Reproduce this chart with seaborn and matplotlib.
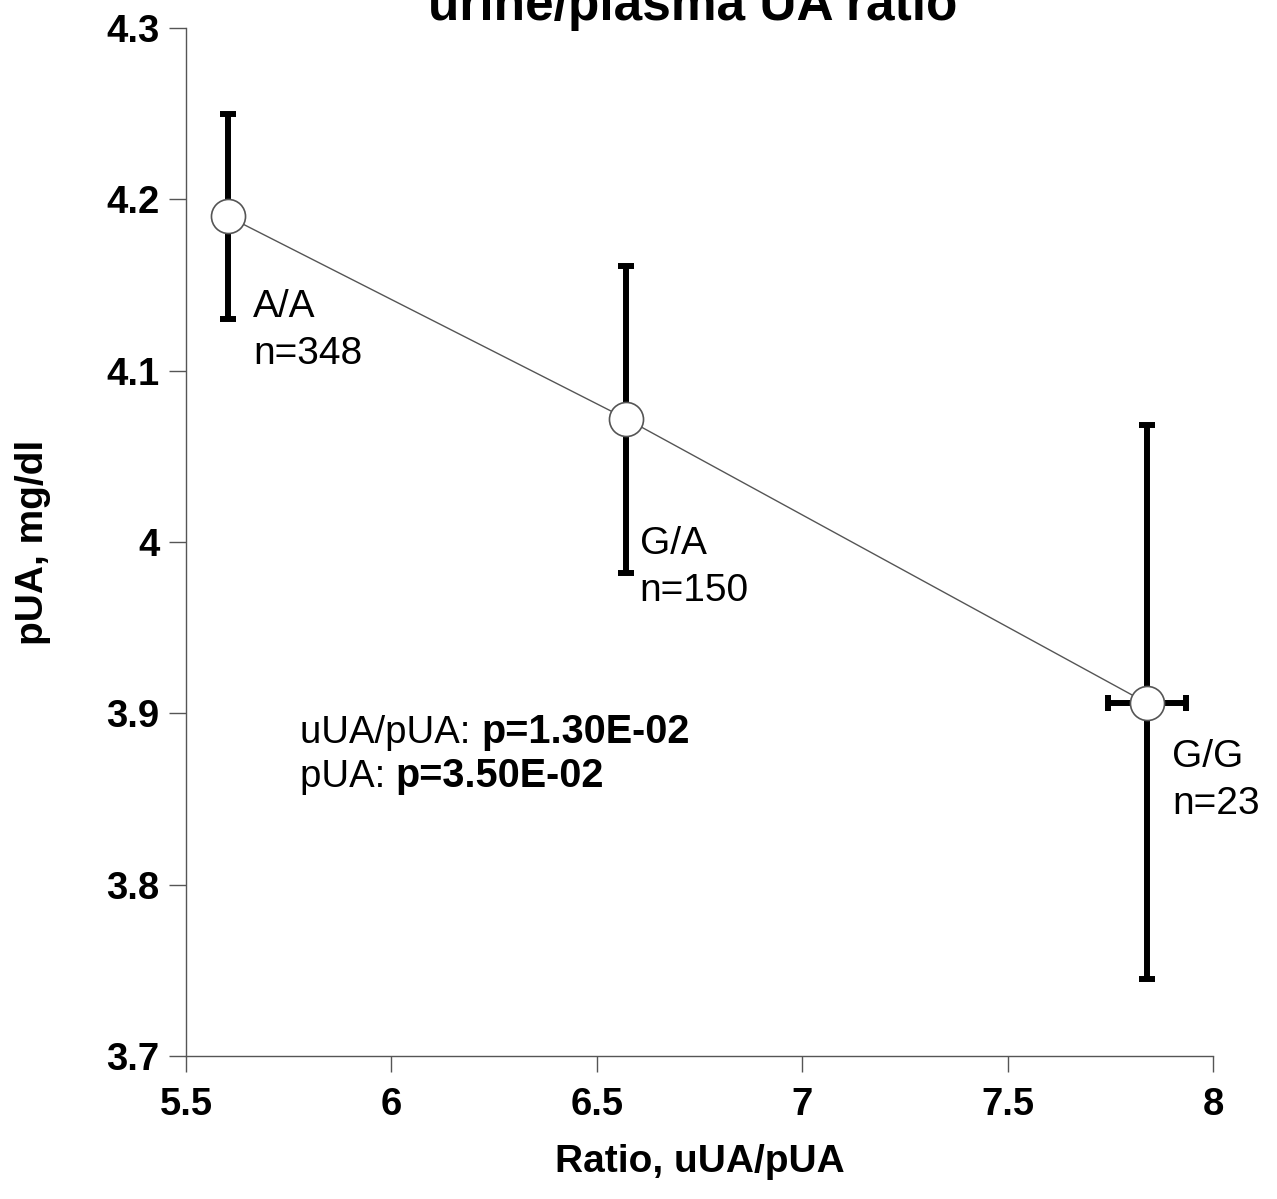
import matplotlib
matplotlib.use("Agg")
import matplotlib.pyplot as plt
import seaborn as sns
import pandas as pd
import numpy as np

# ---- data ----
genotypes = ["A/A", "G/A", "G/G"]
counts = [348, 150, 23]
ratio = [5.602, 6.571, 7.839]          # uUA/pUA ratio (x)
pua = [4.190, 4.072, 3.906]            # pUA mg/dl (y)
pua_err_low = [0.060, 0.090, 0.161]
pua_err_high = [0.060, 0.089, 0.162]
ratio_err = [0.0, 0.0, 0.095]
x_ticks = [5.5, 6, 6.5, 7, 7.5, 8]
x_tick_labels = ["5.5", "6", "6.5", "7", "7.5", "8"]
y_ticks = [3.7, 3.8, 3.9, 4.0, 4.1, 4.2, 4.3]
y_tick_labels = ["3.7", "3.8", "3.9", "4", "4.1", "4.2", "4.3"]
title = "urine/plasma UA ratio"
p_lines = [("uUA/pUA: ", "p=1.30E-02"), ("pUA: ", "p=3.50E-02")]

df = pd.DataFrame({"genotype": genotypes, "n": counts, "ratio": ratio, "pua": pua})

sns.set_theme(style="ticks")
plt.rcParams["font.family"] = ["Liberation Sans", "DejaVu Sans"]
plt.rcParams["text.color"] = "black"
plt.rcParams["axes.labelcolor"] = "black"
plt.rcParams["xtick.color"] = "black"
plt.rcParams["ytick.color"] = "black"

fig = plt.figure(figsize=(12.77, 11.99), dpi=100)
ax = fig.add_axes([186 / 1277, 1 - 1056 / 1199, (1213 - 186) / 1277, (1056 - 28) / 1199])

# error bars
ax.errorbar(df["ratio"], df["pua"], yerr=[pua_err_low, pua_err_high], xerr=ratio_err,
            fmt="none", ecolor="black", elinewidth=4.3, capsize=6, capthick=4.3, zorder=2)
# connecting line
sns.lineplot(data=df, x="ratio", y="pua", ax=ax, color="#555555", linewidth=1.0,
             sort=False, zorder=3)
# markers
sns.scatterplot(data=df, x="ratio", y="pua", ax=ax, s=34 ** 2 * 0.52, marker="o",
                facecolor="white", edgecolor="#555555", linewidth=1.2, zorder=4)

ax.set_xlim(5.5, 8)
ax.set_ylim(3.7, 4.3)
ax.set_xticks(x_ticks)
ax.set_xticklabels(x_tick_labels)
ax.set_yticks(y_ticks)
ax.set_yticklabels(y_tick_labels)

for s in ["top", "right"]:
    ax.spines[s].set_visible(False)
for s in ["left", "bottom"]:
    ax.spines[s].set_color("#555555")
    ax.spines[s].set_linewidth(1.0)
ax.tick_params(axis="y", length=12.5, width=1.0, color="#555555", pad=6.5,
               labelsize=27.5, labelcolor="black")
ax.tick_params(axis="x", length=11.5, width=1.0, color="#555555", pad=11,
               labelsize=27.5, labelcolor="black")
for lab in ax.get_xticklabels() + ax.get_yticklabels():
    lab.set_fontweight("bold")

ax.set_xlabel("Ratio, uUA/pUA", fontsize=28, fontweight="bold", color="black")
ax.set_ylabel("pUA, mg/dl", fontsize=28, fontweight="bold", color="black")
ax.xaxis.set_label_coords(0.5, -0.0855)
ax.yaxis.set_label_coords(-0.131, 0.5)

fig.text(693 / 1277, 1 - 20 / 1199, title, ha="center", va="baseline",
         fontsize=37, fontweight="bold", color="black")

# genotype labels
offsets = [(18, -52), (10, -77), (18, -26)]
for g, n, xv, yv, off in zip(genotypes, counts, ratio, pua, offsets):
    ax.annotate(f"{g}\nn={n}", xy=(xv, yv), xytext=off, textcoords="offset points",
                ha="left", va="top", fontsize=28, linespacing=1.4, color="black")

# p-values
bases = [3.8826, 3.857]
for (norm, bold), yb in zip(p_lines, bases):
    t1 = ax.text(5.7775, yb, norm, fontsize=27.5, ha="left", va="baseline", color="black")
    ax.annotate(bold, xy=(1, 0), xycoords=t1, ha="left", va="bottom",
                fontsize=28.5, fontweight="bold", color="black")

fig.savefig("out.png", dpi=100)
